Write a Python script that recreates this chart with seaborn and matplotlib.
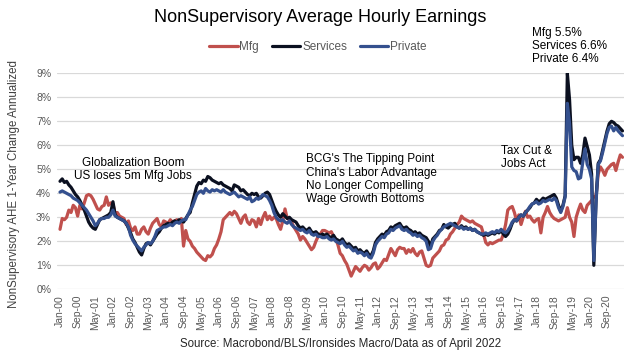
import numpy as np
import pandas as pd
import seaborn as sns
import matplotlib
matplotlib.use("Agg")
import matplotlib.pyplot as plt

# ---------------- data (monthly, % y/y) ----------------
services = [
    4.5, 4.6, 4.45, 4.5, 4.35, 4.25, 4.1, 3.95, 3.85, 3.7, 3.5, 3.3,
    3.05, 2.8, 2.65, 2.55, 2.5, 2.7, 2.9, 2.95, 3.0, 3.05, 3.1, 3.2,
    3.65, 3.1, 3.0, 2.95, 2.9, 2.85, 2.75, 2.55, 2.35, 2.1, 1.95, 1.75,
    1.55, 1.43, 1.7, 1.9, 1.95, 1.85, 2.0, 2.15, 2.3, 2.4, 2.55, 2.65,
    2.7, 2.75, 2.7, 2.8, 2.85, 2.8, 2.9, 2.85, 2.8, 2.95, 3.1, 3.2,
    3.6, 3.95, 4.3, 4.45, 4.4, 4.55, 4.5, 4.7, 4.65, 4.55, 4.5, 4.45,
    4.4, 4.45, 4.35, 4.3, 4.25, 4.2, 4.1, 4.35, 4.3, 4.25, 4.1, 4.15,
    4.05, 3.95, 3.9, 4.0, 3.95, 4.0, 3.85, 3.8, 3.9, 4.0, 4.05, 3.95,
    3.7, 3.45, 3.25, 3.1, 3.0, 3.15, 3.05, 2.95, 3.0, 2.9, 2.85, 2.8,
    2.65, 2.55, 2.6, 2.5, 2.45, 2.55, 2.4, 2.35, 2.4, 2.3, 2.25, 2.3,
    2.25, 2.3, 2.2, 2.15, 2.25, 2.1, 2.05, 2.0, 2.1, 1.95, 1.85, 1.9,
    1.8, 1.7, 1.75, 1.6, 1.65, 1.55, 1.5, 1.6, 1.45, 1.4, 1.6, 1.95,
    2.1, 2.2, 2.3, 2.25, 2.4, 2.45, 2.6, 2.55, 2.65, 2.7, 2.75, 2.6,
    2.55, 2.6, 2.5, 2.45, 2.35, 2.4, 2.3, 2.35, 2.25, 2.2, 2.15, 2.0,
    1.8, 2.1, 2.2, 2.3, 2.45, 2.5, 2.7, 2.6, 2.55, 2.65, 2.7, 2.75,
    2.6, 2.55, 2.65, 2.55, 2.6, 2.5, 2.55, 2.45, 2.5, 2.4, 2.35, 2.3,
    2.25, 2.3, 2.25, 2.3, 2.35, 2.3, 2.4, 2.35, 2.45, 2.3, 2.2, 2.3,
    2.5, 2.75, 2.9, 2.85, 3.0, 3.1, 3.05, 3.2, 3.3, 3.4, 3.55, 3.6,
    3.75, 3.65, 3.7, 3.8, 3.75, 3.8, 3.85, 3.9, 3.95, 3.8, 3.5, 3.25,
    3.5, 3.9, 9.0, 7.9, 6.0, 5.4, 5.5, 5.5, 5.25, 5.6, 6.3, 5.95,
    5.6, 4.8, 1.0, 3.7, 5.25, 5.4, 5.8, 6.2, 6.6, 6.9, 7.0, 6.95,
    6.85, 6.8, 6.7, 6.6,
]

private = [
    4.05, 4.1, 4.05, 4.0, 3.95, 3.9, 3.8, 3.75, 3.7, 3.6, 3.5, 3.4,
    3.3, 3.15, 3.0, 2.85, 2.65, 2.75, 2.9, 2.95, 2.95, 3.0, 3.0, 3.1,
    3.3, 3.05, 3.0, 2.95, 2.9, 2.85, 2.75, 2.6, 2.25, 2.05, 1.9, 1.8,
    1.7, 1.6, 1.75, 1.85, 1.95, 1.9, 2.0, 2.2, 2.45, 2.5, 2.55, 2.6,
    2.6, 2.65, 2.7, 2.65, 2.75, 2.8, 2.75, 2.85, 2.9, 2.9, 3.1, 3.3,
    3.45, 3.7, 3.95, 4.05, 4.1, 4.0, 4.2, 4.1, 4.05, 4.15, 4.1, 4.15,
    4.1, 4.05, 4.15, 4.05, 4.0, 3.95, 4.0, 4.05, 3.95, 3.85, 3.9, 3.85,
    3.8, 3.75, 3.85, 3.65, 3.7, 3.8, 3.75, 3.85, 3.95, 3.9, 3.85, 3.7,
    3.5, 3.2, 3.0, 2.9, 2.85, 2.9, 2.8, 2.75, 2.85, 2.7, 2.6, 2.55,
    2.5, 2.45, 2.5, 2.4, 2.35, 2.45, 2.3, 2.25, 2.3, 2.2, 2.2, 2.15,
    2.15, 2.2, 2.1, 2.05, 2.1, 2.0, 1.95, 1.9, 2.0, 1.85, 1.75, 1.8,
    1.7, 1.6, 1.65, 1.5, 1.55, 1.5, 1.4, 1.5, 1.35, 1.3, 1.5, 1.85,
    2.0, 2.1, 2.2, 2.15, 2.3, 2.35, 2.5, 2.45, 2.55, 2.6, 2.65, 2.5,
    2.45, 2.5, 2.4, 2.35, 2.25, 2.3, 2.2, 2.25, 2.15, 2.1, 2.0, 1.65,
    1.7, 2.0, 2.15, 2.25, 2.4, 2.5, 2.6, 2.65, 2.7, 2.75, 2.7, 2.65,
    2.6, 2.55, 2.6, 2.5, 2.55, 2.5, 2.55, 2.45, 2.5, 2.4, 2.35, 2.3,
    2.3, 2.35, 2.3, 2.35, 2.4, 2.35, 2.45, 2.4, 2.5, 2.4, 2.35, 2.45,
    2.6, 2.8, 2.9, 2.85, 3.0, 3.1, 3.05, 3.2, 3.3, 3.45, 3.55, 3.6,
    3.65, 3.55, 3.6, 3.7, 3.65, 3.7, 3.75, 3.7, 3.8, 3.7, 3.4, 3.2,
    3.45, 3.85, 7.75, 6.9, 5.1, 4.95, 4.9, 4.6, 4.65, 5.3, 5.85, 5.2,
    5.0, 4.6, 1.2, 3.6, 5.2, 5.35, 5.7, 6.1, 6.5, 6.75, 6.8, 6.6,
    6.75, 6.6, 6.5, 6.4,
]

mfg = [
    2.5, 2.95, 2.9, 3.0, 3.3, 3.2, 3.5, 3.4, 3.05, 3.5, 3.35, 3.6,
    3.9, 3.95, 3.9, 3.75, 3.55, 3.35, 3.3, 3.45, 3.5, 3.85, 3.5, 3.6,
    3.55, 3.15, 3.2, 3.05, 3.0, 2.95, 2.7, 2.85, 2.55, 2.45, 2.6, 2.3,
    2.3, 2.5, 2.6, 2.4, 2.3, 2.55, 2.75, 2.85, 2.95, 2.7, 2.6, 2.85,
    2.8, 2.75, 2.9, 2.8, 2.85, 2.9, 2.8, 2.95, 1.8, 2.45, 2.1, 2.0,
    1.8, 1.7, 1.55, 1.45, 1.35, 1.25, 1.2, 1.4, 1.35, 1.45, 1.7, 1.85,
    2.1, 2.4, 2.9, 3.0, 3.1, 3.2, 3.1, 3.25, 3.15, 2.95, 2.75, 3.0,
    3.1, 2.8, 2.7, 2.9, 2.85, 2.6, 2.95, 2.7, 3.0, 3.2, 2.9, 3.05,
    2.9, 3.0, 2.95, 2.7, 2.5, 2.85, 3.35, 2.95, 2.9, 2.8, 2.6, 2.45,
    2.3, 2.05, 2.2, 2.1, 1.95, 1.8, 1.65, 1.75, 2.0, 2.2, 2.3, 2.45,
    2.45, 2.4, 2.35, 2.4, 2.2, 2.1, 1.85, 1.5, 1.4, 1.2, 1.05, 0.8,
    0.55, 0.75, 0.95, 0.85, 0.75, 0.9, 1.0, 0.95, 0.8, 0.9, 1.05, 1.1,
    0.85, 0.95, 1.1, 1.25, 1.2, 1.45, 1.7, 1.55, 1.4, 1.65, 1.75, 1.7,
    1.7, 1.5, 1.65, 1.55, 1.7, 1.5, 1.4, 1.55, 1.6, 1.3, 1.0, 0.95,
    1.0, 1.3, 1.4, 1.5, 1.6, 1.8, 1.85, 2.05, 2.1, 2.3, 2.4, 2.55,
    2.7, 2.8, 3.05, 2.95, 2.9, 2.85, 2.8, 2.85, 2.75, 2.7, 2.65, 2.6,
    2.3, 1.95, 1.85, 1.95, 1.9, 1.95, 2.0, 2.05, 2.05, 2.3, 2.7, 3.3,
    3.4, 3.45, 3.2, 2.85, 3.1, 2.7, 3.0, 3.25, 3.0, 3.05, 2.9, 2.8,
    2.9, 2.95, 2.35, 3.0, 3.2, 3.45, 3.2, 3.05, 2.95, 2.9, 2.85, 2.9,
    2.95, 3.0, 3.4, 3.0, 2.8, 2.2, 3.0, 3.3, 3.55, 3.3, 3.2, 3.5,
    3.6, 3.7, 3.85, 3.9, 4.8, 5.1, 4.95, 4.75, 5.0, 5.1, 5.2, 5.25,
    4.95, 5.3, 5.6, 5.5,
]

series_names = ["Mfg", "Services", "Private"]
tick_labels = ["Jan-00", "Sep-00", "May-01", "Jan-02", "Sep-02", "May-03",
               "Jan-04", "Sep-04", "May-05", "Jan-06", "Sep-06", "May-07",
               "Jan-08", "Sep-08", "May-09", "Jan-10", "Sep-10", "May-11",
               "Jan-12", "Sep-12", "May-13", "Jan-14", "Sep-14", "May-15",
               "Jan-16", "Sep-16", "May-17", "Jan-18", "Sep-18", "May-19",
               "Jan-20", "Sep-20"]
tick_step = 8

assert len(services) == len(private) == len(mfg)

n = len(services)
idx = np.arange(n)
df = pd.concat([
    pd.DataFrame({"idx": idx, "value": mfg, "series": "Mfg"}),
    pd.DataFrame({"idx": idx, "value": services, "series": "Services"}),
    pd.DataFrame({"idx": idx, "value": private, "series": "Private"}),
])

# ---------------- style ----------------
sns.set_theme(style="white")
plt.rcParams["font.family"] = ["Liberation Sans", "DejaVu Sans"]

W, H = 633, 361
fig = plt.figure(figsize=(W / 100, H / 100), dpi=100)
ax_left, ax_right = 56.7, 623.6
ax_top, ax_bot = 73.3, 289.3
ax = fig.add_axes([ax_left / W, 1 - ax_bot / H, (ax_right - ax_left) / W, (ax_bot - ax_top) / H])

palette = {"Mfg": "#C0504D", "Services": "#0B1020", "Private": "#34508E"}
sns.lineplot(data=df, x="idx", y="value", hue="series", hue_order=series_names,
             palette=palette, linewidth=2.3, ax=ax, legend=True)

ax.set_xlim(-1.5, 255.5)
ax.set_ylim(0, 9)
ax.set_yticks(range(0, 10))
ax.set_yticklabels([f"{v}%" for v in range(0, 10)])
ax.set_xticks(np.arange(len(tick_labels)) * tick_step)
ax.set_xticklabels(tick_labels, rotation=90)
ax.tick_params(axis="both", length=0, labelsize=7.5, colors="#595959", pad=4)
ax.grid(axis="y", color="#D9D9D9", linewidth=0.9)
ax.set_axisbelow(True)
for s in ax.spines.values():
    s.set_visible(False)
ax.set_xlabel("")
ax.set_ylabel("")

handles, labels = ax.get_legend_handles_labels()
ax.get_legend().remove()
fig.legend(handles, labels, loc="center", bbox_to_anchor=(318 / W, 1 - 47.3 / H),
           ncol=3, frameon=False, fontsize=8.5, handlelength=2.4,
           handletextpad=0.15, columnspacing=1.1, labelcolor="#595959")

fig.text(320 / W, 1 - 18 / H, "NonSupervisory Average Hourly Earnings",
         ha="center", va="center", fontsize=13, color="#000000")
fig.text(14 / W, 1 - 184 / H, "NonSupervisory AHE 1-Year Change Annualized",
         ha="center", va="center", rotation=90, fontsize=8.3, color="#404040")
fig.text(341 / W, 1 - 344 / H, "Source: Macrobond/BLS/Ironsides Macro/Data as of April 2022",
         ha="center", va="center", fontsize=8.3, color="#262626")

ann_kw = dict(fontsize=8.5, color="#000000", linespacing=1.15, va="center")
ax.text(33, 4.98, "Globalization Boom\nUS loses 5m Mfg Jobs", ha="center", **ann_kw)
ax.text(111.5, 4.58, "BCG's The Tipping Point\nChina's Labor Advantage\nNo Longer Compelling\nWage Growth Bottoms",
        ha="left", **ann_kw)
ax.text(200, 5.48, "Tax Cut &\nJobs Act", ha="left", **ann_kw)
ax.text(213.8, 10.14, "Mfg 5.5%\nServices 6.6%\nPrivate 6.4%", ha="left", clip_on=False, **ann_kw)

fig.savefig("out.png", dpi=100)
